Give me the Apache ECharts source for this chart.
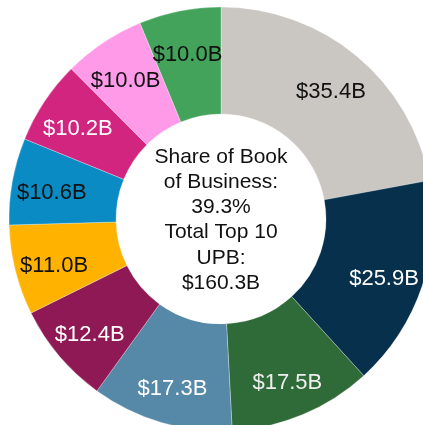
<!DOCTYPE html>
<html>
<head>
<meta charset="utf-8">
<script src="https://cdn.jsdelivr.net/npm/echarts@6/dist/echarts.min.js"></script>
<style>
  html, body { margin: 0; padding: 0; background: #ffffff; }
  #chart { width: 423px; height: 425px; }
</style>
</head>
<body>
<div id="chart"></div>
<script>
// Top 10 servicers by unpaid principal balance ($B), clockwise from 12 o'clock
const names = ['Servicer 1', 'Servicer 2', 'Servicer 3', 'Servicer 4', 'Servicer 5',
               'Servicer 6', 'Servicer 7', 'Servicer 8', 'Servicer 9', 'Servicer 10'];
const upb = [35.4, 25.9, 17.5, 17.3, 12.4, 11.0, 10.6, 10.2, 10.0, 10.0];
const sliceColors = ['#CAC7C2', '#06304B', '#2E6B39', '#5688A8', '#8E1955',
                     '#FFB300', '#0A8BC4', '#D1257F', '#FF9AE9', '#43A35B'];
const labelColors = ['#111111', '#ffffff', '#eeeeee', '#ffffff', '#ffffff',
                     '#111111', '#111111', '#ffffff', '#111111', '#111111'];
const centerLines = ['Share of Book', 'of Business:', '39.3%', 'Total Top 10', 'UPB:', '$160.3B'];

const FONT = '"Liberation Sans", Arial, sans-serif';
const CX = 221, CY = 219;

const sliceData = names.map((n, i) => ({
  name: n,
  value: upb[i],
  itemStyle: { color: sliceColors[i] }
}));

const labelData = names.map((n, i) => ({
  name: n,
  value: upb[i],
  label: { color: labelColors[i] }
}));

const chart = echarts.init(document.getElementById('chart'), null, { renderer: 'canvas' });
chart.setOption({
  animation: false,
  backgroundColor: '#ffffff',
  series: [
    {
      type: 'pie',
      center: [CX, CY],
      radius: [105, 212],
      startAngle: 90,
      clockwise: true,
      silent: true,
      label: { show: false },
      labelLine: { show: false },
      itemStyle: { borderColor: 'rgba(255,255,255,0.6)', borderWidth: 0.5 },
      data: sliceData
    },
    {
      // transparent ring carrying the value labels, sitting a touch low in the band
      type: 'pie',
      center: [CX, CY + 5],
      radius: [128, 210],
      startAngle: 90,
      clockwise: true,
      silent: true,
      itemStyle: { color: 'rgba(0,0,0,0)' },
      labelLine: { show: false },
      label: {
        show: true,
        position: 'inside',
        fontFamily: FONT,
        fontSize: 22,
        formatter: p => '$' + p.value.toFixed(1) + 'B'
      },
      data: labelData
    }
  ],
  graphic: [{
    type: 'text',
    x: CX,
    y: CY + 1,
    style: {
      text: centerLines.join('\n'),
      align: 'center',
      verticalAlign: 'middle',
      fontFamily: FONT,
      fontSize: 21,
      lineHeight: 25.3,
      fill: '#111111'
    }
  }]
});
</script>
</body>
</html>
